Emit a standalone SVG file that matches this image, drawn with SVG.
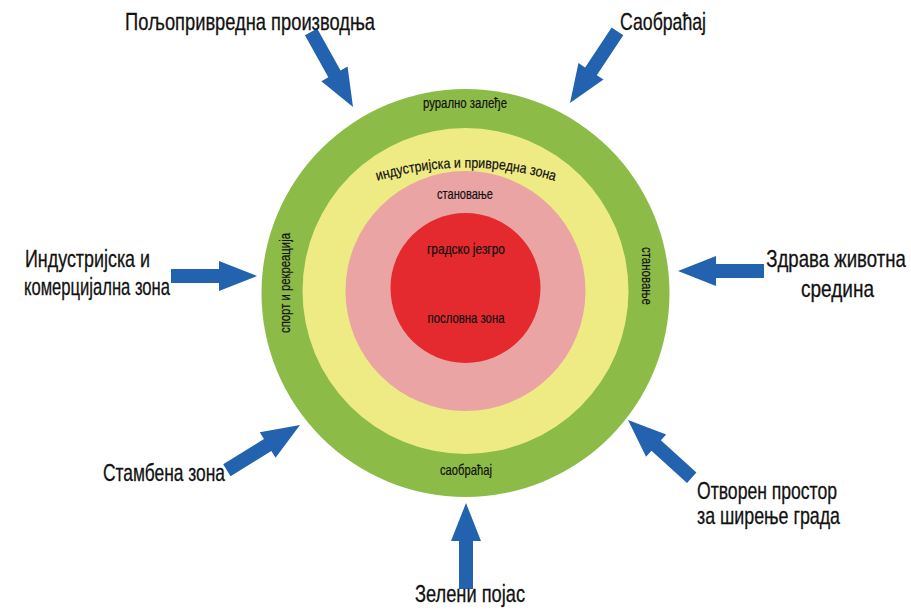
<svg xmlns="http://www.w3.org/2000/svg" xmlns:xlink="http://www.w3.org/1999/xlink" width="911" height="610" viewBox="0 0 911 610">
<style>
.lbl{font-family:"Liberation Sans",Arial,sans-serif;font-size:24px;fill:#111;stroke:#111;stroke-width:0.3;}
.in{font-family:"Liberation Sans",Arial,sans-serif;font-size:14.5px;fill:#111;stroke:#111;stroke-width:0.2;}
.arrow{fill:#2262ae;}
</style>
<defs>
<path id="arr" d="M-86,-7 L-38,-7 L-38,-15 L0,0 L-38,15 L-38,7 L-86,7 Z"/>
<path id="arcp" d="M 362,186 A 304 304 0 0 1 570 186"/>
</defs>
<rect width="911" height="610" fill="#fff"/>
<g id="rings">
<g id="ring-green"><circle cx="465.5" cy="293" r="204" fill="#8dbb47"/></g>
<g id="ring-yellow"><circle cx="465.5" cy="291" r="163" fill="#efeb84"/></g>
<g id="ring-pink"><circle cx="465.5" cy="291" r="120" fill="#eaa4a4"/></g>
<g id="ring-red"><circle cx="465.5" cy="288" r="75" fill="#e42a2e"/></g>
</g>
<g id="ring-labels">
<text class="in" x="465" y="108" text-anchor="middle" textLength="84" lengthAdjust="spacingAndGlyphs">рурално залеђе</text>
<text class="in"><textPath xlink:href="#arcp" href="#arcp" startOffset="50%" text-anchor="middle" textLength="180" lengthAdjust="spacingAndGlyphs">индустријска и привредна зона</textPath></text>
<text class="in" x="465" y="199" text-anchor="middle" textLength="56" lengthAdjust="spacingAndGlyphs">становање</text>
<text class="in" x="466" y="254" text-anchor="middle" textLength="78" lengthAdjust="spacingAndGlyphs">градско језгро</text>
<text class="in" x="466" y="323" text-anchor="middle" textLength="77" lengthAdjust="spacingAndGlyphs">пословна зона</text>
<text class="in" x="466" y="475" text-anchor="middle" textLength="52" lengthAdjust="spacingAndGlyphs">саобраћај</text>
<text class="in" transform="translate(290,283) rotate(-90)" x="0" y="0" text-anchor="middle" textLength="100" lengthAdjust="spacingAndGlyphs">спорт и рекреација</text>
<text class="in" transform="translate(642,276) rotate(90)" x="0" y="0" text-anchor="middle" textLength="58" lengthAdjust="spacingAndGlyphs">становање</text>
</g>
<g id="connectors">
<use href="#arr" class="arrow" transform="translate(353,107) rotate(60.8)"/>
<use href="#arr" class="arrow" transform="translate(570,103) rotate(123.5)"/>
<use href="#arr" class="arrow" transform="translate(257,276) rotate(0)"/>
<use href="#arr" class="arrow" transform="translate(678,271) rotate(180)"/>
<use href="#arr" class="arrow" transform="translate(300,425) rotate(-31.7)"/>
<use href="#arr" class="arrow" transform="translate(628,420) rotate(-137.8)"/>
<use href="#arr" class="arrow" transform="translate(466,503) rotate(-90)"/>
</g>
<g id="node-poljoprivredna"><text class="lbl" x="125" y="30" textLength="250" lengthAdjust="spacingAndGlyphs">Пољопривредна производња</text></g>
<g id="node-saobracaj"><text class="lbl" x="620" y="30" textLength="86" lengthAdjust="spacingAndGlyphs">Саобраћај</text></g>
<g id="node-industrijska">
<text class="lbl" x="25" y="267" textLength="125" lengthAdjust="spacingAndGlyphs">Индустријска и</text>
<text class="lbl" x="24" y="295" textLength="146" lengthAdjust="spacingAndGlyphs">комерцијална зона</text>
</g>
<g id="node-zdrava">
<text class="lbl" transform="translate(836,267) scale(0.775,1)" x="0" y="0" text-anchor="middle">Здрава животна</text>
<text class="lbl" x="874" y="297" text-anchor="end" textLength="73" lengthAdjust="spacingAndGlyphs">средина</text>
</g>
<g id="node-stambena"><text class="lbl" x="103" y="481" textLength="122" lengthAdjust="spacingAndGlyphs">Стамбена зона</text></g>
<g id="node-otvoren">
<text class="lbl" x="697" y="499" textLength="140" lengthAdjust="spacingAndGlyphs">Отворен простор</text>
<text class="lbl" x="697" y="524" textLength="143" lengthAdjust="spacingAndGlyphs">за ширење града</text>
</g>
<g id="node-zeleni"><text class="lbl" x="415" y="602" textLength="110" lengthAdjust="spacingAndGlyphs">Зелени појас</text></g>
</svg>
